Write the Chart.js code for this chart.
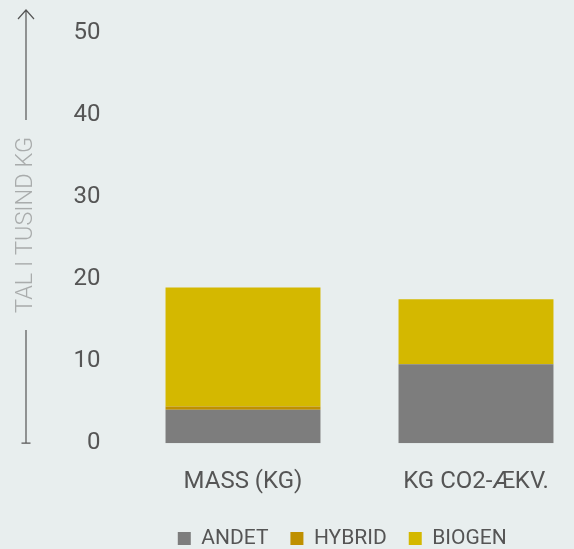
<!DOCTYPE html>
<html>
<head>
<meta charset="utf-8">
<script src="https://cdn.jsdelivr.net/npm/chart.js@4/dist/chart.umd.min.js"></script>
<style>
    html, body { margin: 0; padding: 0; background: #e8eeee; overflow: hidden; }
    #wrap { position: relative; width: 600px; height: 549px; }
</style>
</head>
<body>
<div id="wrap"><canvas id="chart"></canvas></div>
<script>
// Data (thousand kg)
const categories = ['MASS (KG)', 'KG CO2-ÆKV.'];
const andet = [4.07, 9.61];
const hybrid = [0.41, 0];
const biogen = [14.5, 7.94];
const yTicks = [0, 10, 20, 30, 40, 50];
const axisTitle = 'TAL I TUSIND KG';

// Vertical axis title with arrow lines above and below
const axisArrow = {
    id: 'axisArrow',
    afterDraw(chart) {
        const ctx = chart.ctx;
        const y = chart.scales.y;
        const x = 26;
        const top = 10;
        const bottom = y.getPixelForValue(0);
        const mid = 225;
        ctx.save();
        ctx.font = '300 23.5px Roboto';
        const half = ctx.measureText(axisTitle).width / 2;
        ctx.strokeStyle = '#555';
        ctx.lineWidth = 1.2;
        ctx.beginPath();
        ctx.moveTo(x, top);
        ctx.lineTo(x, mid - half - 17);
        ctx.moveTo(x - 8, top + 9);
        ctx.lineTo(x, top);
        ctx.lineTo(x + 8, top + 9);
        ctx.moveTo(x, mid + half + 17);
        ctx.lineTo(x, bottom);
        ctx.moveTo(x - 4.5, bottom);
        ctx.lineTo(x + 4.5, bottom);
        ctx.stroke();
        ctx.translate(x, mid);
        ctx.rotate(-Math.PI / 2);
        ctx.fillStyle = '#a9acac';
        ctx.textAlign = 'center';
        ctx.textBaseline = 'middle';
        ctx.fillText(axisTitle, 0, 0);
        ctx.restore();
    }
};

// move the legend under the plot like in the original
const legendShift = {
    id: 'legendShift',
    afterLayout(chart) {
        const lg = chart.legend;
        lg.left += 46;
        lg.right += 46;
        lg.top -= 15;
        lg.bottom -= 15;
    }
};

const ctx = document.getElementById('chart').getContext('2d');
new Chart(ctx, {
    type: 'bar',
    data: {
        labels: categories,
        datasets: [
            { label: 'ANDET', data: andet, backgroundColor: '#7d7d7d' },
            { label: 'HYBRID', data: hybrid, backgroundColor: '#bf9000' },
            { label: 'BIOGEN', data: biogen, backgroundColor: '#d4b800' }
        ]
    },
    options: {
        responsive: true,
        maintainAspectRatio: false,
        animation: false,
        layout: { padding: { left: 0, right: 7.5, top: 33, bottom: -25 } },
        datasets: {
            bar: { categoryPercentage: 1, barPercentage: 0.665 }
        },
        plugins: {
            legend: {
                position: 'bottom',
                labels: {
                    boxWidth: 13,
                    boxHeight: 13,
                    padding: 22,
                    color: '#555',
                    font: { family: 'Roboto', size: 21 }
                }
            },
            tooltip: { enabled: false }
        },
        scales: {
            x: {
                stacked: true,
                grid: { display: false, drawTicks: false },
                border: { display: false },
                ticks: {
                    padding: 24.5,
                    color: '#555',
                    font: { family: 'Roboto', size: 24 }
                }
            },
            y: {
                stacked: true,
                min: 0,
                max: 50,
                afterFit: (scale) => {
                    scale.width = 126.5;
                    scale.paddingTop = 0;
                    scale.paddingBottom = 0;
                },
                afterBuildTicks: (scale) => { scale.ticks = yTicks.map(v => ({ value: v })); },
                grid: { display: false, drawTicks: false },
                border: { display: false },
                ticks: {
                    padding: 26,
                    color: '#555',
                    font: { family: 'Roboto', size: 24 }
                }
            }
        }
    },
    plugins: [axisArrow, legendShift]
});
</script>
</body>
</html>
